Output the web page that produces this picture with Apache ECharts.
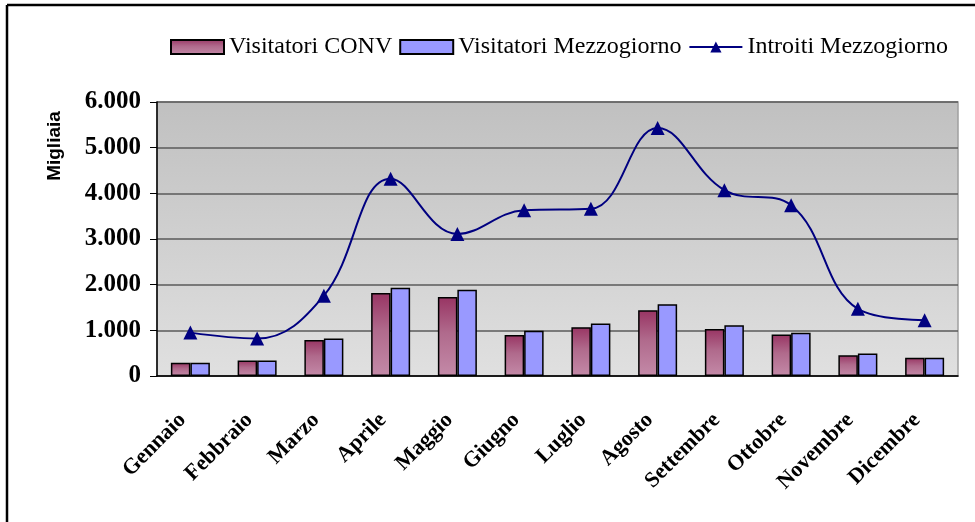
<!DOCTYPE html>
<html>
<head>
<meta charset="utf-8">
<script src="https://cdn.jsdelivr.net/npm/echarts@6/dist/echarts.min.js"></script>
<style>
  html, body { margin: 0; padding: 0; background: #fff; }
  #main { width: 975px; height: 522px; }
</style>
</head>
<body>
<div id="main"></div>
<script>
// dati (migliaia)
const mesi = ['Gennaio', 'Febbraio', 'Marzo', 'Aprile', 'Maggio', 'Giugno', 'Luglio', 'Agosto', 'Settembre', 'Ottobre', 'Novembre', 'Dicembre']
const visitatoriConv = [290, 340, 790, 1820, 1730, 900, 1070, 1440, 1030, 910, 455, 400]
const visitatoriMezzogiorno = [290, 340, 820, 1930, 1890, 990, 1150, 1570, 1110, 945, 490, 400]
const introitiMezzogiorno = [950, 820, 1760, 4320, 3110, 3630, 3660, 5430, 4070, 3740, 1470, 1220]
const yTicks = ['0', '1.000', '2.000', '3.000', '4.000', '5.000', '6.000']

const serif = "'Liberation Serif', 'Times New Roman', serif"

const myChart = echarts.init(document.getElementById('main'))

const convColor = new echarts.graphic.LinearGradient(0, 0, 0, 1, [
    { offset: 0, color: '#983463' },
    { offset: 0.45, color: '#b06a8c' },
    { offset: 1, color: '#c48aa8' }
])

const option = {
    animation: false,
    backgroundColor: '#fff',
    grid: {
        left: 157,
        right: 17,
        top: 102,
        bottom: 146,
        show: true,
        borderColor: '#a0a0a0',
        borderWidth: 1.5,
        backgroundColor: new echarts.graphic.LinearGradient(0, 0, 0, 1, [
            { offset: 0, color: '#c0c0c0' },
            { offset: 1, color: '#e0e0e0' }
        ])
    },
    legend: {
        left: 165,
        top: 30,
        itemWidth: 53,
        itemHeight: 14,
        itemGap: 7,
        textStyle: { fontFamily: serif, fontSize: 24, color: '#000' },
        data: [
            { name: 'Visitatori CONV', icon: 'rect' },
            { name: 'Visitatori Mezzogiorno', icon: 'rect' },
            { name: 'Introiti Mezzogiorno' }
        ]
    },
    graphic: [
        { type: 'line', shape: { x1: 7, y1: 5, x2: 975, y2: 5 }, style: { stroke: '#000', lineWidth: 2.5 } },
        { type: 'line', shape: { x1: 7, y1: 5, x2: 7, y2: 522 }, style: { stroke: '#000', lineWidth: 2.5 } },
        {
            type: 'text',
            x: 55,
            y: 146,
            rotation: Math.PI / 2,
            style: {
                text: 'Migliaia',
                font: "bold 19px 'Liberation Sans', Arial, sans-serif",
                fill: '#000',
                align: 'center',
                verticalAlign: 'middle'
            }
        }
    ],
    xAxis: {
        type: 'category',
        data: mesi,
        axisLine: { lineStyle: { color: '#000', width: 1.5 } },
        axisTick: { length: 8, lineStyle: { color: '#000', width: 1 } },
        axisLabel: {
            interval: 0,
            rotate: 45,
            margin: 33,
            padding: [0, 11, 0, 0],
            fontFamily: serif,
            fontWeight: 'bold',
            fontSize: 22,
            color: '#000'
        }
    },
    yAxis: {
        type: 'value',
        min: 0,
        max: 6000,
        interval: 1000,
        axisLine: { show: true, lineStyle: { color: '#000', width: 1.5 } },
        axisTick: { show: true, length: 7, lineStyle: { color: '#000', width: 1 } },
        splitLine: { lineStyle: { color: '#5a5a5a', width: 1.5 } },
        axisLabel: {
            margin: 16,
            fontFamily: serif,
            fontWeight: 'bold',
            fontSize: 25,
            color: '#000',
            formatter: (v) => yTicks[Math.round(v / 1000)]
        }
    },
    series: [
        {
            name: 'Visitatori CONV',
            type: 'bar',
            data: visitatoriConv,
            barWidth: 19.5,
            barGap: '0%',
            itemStyle: { color: convColor, borderColor: '#000', borderWidth: 1.5 }
        },
        {
            name: 'Visitatori Mezzogiorno',
            type: 'bar',
            data: visitatoriMezzogiorno,
            barWidth: 19.5,
            itemStyle: { color: '#9999ff', borderColor: '#000', borderWidth: 1.5 }
        },
        {
            name: 'Introiti Mezzogiorno',
            type: 'line',
            data: introitiMezzogiorno,
            smooth: 0.4,
            symbol: 'triangle',
            symbolSize: 14,
            lineStyle: { color: '#000080', width: 2 },
            itemStyle: { color: '#000080' },
            z: 5
        }
    ]
}
myChart.setOption(option)
</script>
</body>
</html>
